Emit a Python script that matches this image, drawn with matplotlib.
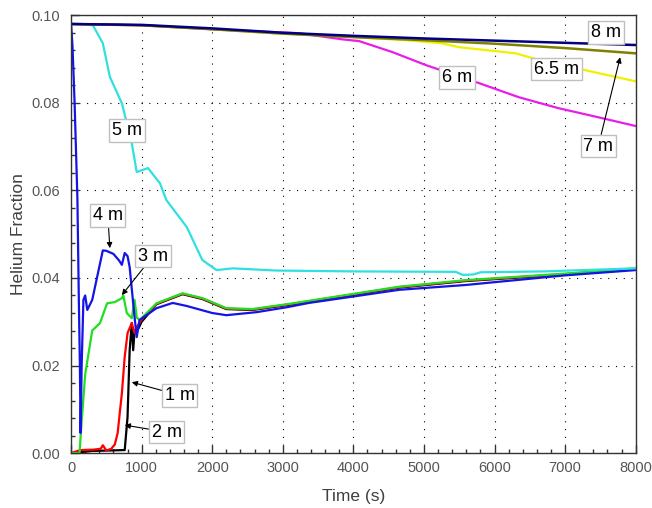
import matplotlib.pyplot as plt
from matplotlib.ticker import MultipleLocator

plt.rcParams['font.family'] = ['Liberation Sans', 'DejaVu Sans']

# 8 m
t8 = [0, 1000, 2000, 3000, 4000, 5000, 6000, 7000, 8000]
y8 = [0.0980, 0.0978, 0.0970, 0.0960, 0.0953, 0.0947, 0.0942, 0.0937, 0.0932]
# 7 m
t7 = [0, 1000, 2000, 3000, 4000, 5000, 6000, 7000, 8000]
y7 = [0.0980, 0.0977, 0.0968, 0.0958, 0.0950, 0.0943, 0.0935, 0.0925, 0.0913]
# 6.5 m
t65 = [0, 1000, 2000, 3000, 4000, 4750, 5250, 5500, 6300, 6800, 7300, 8000]
y65 = [0.0980, 0.0977, 0.0968, 0.0958, 0.0950, 0.0943, 0.0936, 0.0927, 0.0913, 0.0890, 0.0874, 0.0849]
# 6 m
t6 = [0, 1000, 2000, 2800, 3230, 3840, 4080, 4550, 5030, 5780, 6340, 6900, 7470, 8000]
y6 = [0.0980, 0.0977, 0.0968, 0.0962, 0.0959, 0.0945, 0.0941, 0.0916, 0.0886, 0.0845, 0.0813, 0.0788, 0.0767, 0.0747]
# 5 m
t5 = [0, 150, 310, 450, 550, 720, 860, 930, 1090, 1260, 1350, 1640, 1860, 2060, 2290,
      2900, 4000, 5450, 5550, 5700, 5800, 6700, 8000]
y5 = [0.0980, 0.0980, 0.0977, 0.0936, 0.0859, 0.0799, 0.0708, 0.0642, 0.0651, 0.0616, 0.0578,
      0.0516, 0.0441, 0.0418, 0.0422, 0.0417, 0.0415, 0.0414, 0.0407, 0.0408, 0.0413, 0.0415, 0.0422]
# 4 m
t4 = [0, 20, 50, 90, 110, 125, 135, 150, 175, 200, 230, 300, 450, 500, 600, 680, 720, 760, 800,
      830, 900, 930, 970, 1210, 1440, 1640, 2000, 2200, 2630, 3050, 3370, 4650, 5590, 7000, 8000]
y4 = [0.0980, 0.0930, 0.0800, 0.0580, 0.0350, 0.0200, 0.0046, 0.0200, 0.0350, 0.0360, 0.0327,
      0.0350, 0.0463, 0.0462, 0.0455, 0.0440, 0.0430, 0.0457, 0.0450, 0.0425, 0.0310, 0.0265,
      0.0304, 0.0331, 0.0343, 0.0336, 0.0320, 0.0315, 0.0322, 0.0333, 0.0343, 0.0373, 0.0384,
      0.0406, 0.0418]
# 3 m
t3 = [0, 120, 140, 200, 300, 410, 510, 620, 720, 740, 790, 860, 900, 930, 970, 1210, 1580,
      1860, 2200, 2570, 3140, 4650, 5590, 7000, 8000]
y3 = [0.0, 0.0, 0.0050, 0.0180, 0.0280, 0.0297, 0.0342, 0.0345, 0.0354, 0.0360, 0.0320, 0.0308,
      0.0350, 0.0310, 0.0304, 0.0342, 0.0365, 0.0354, 0.0331, 0.0329, 0.0342, 0.0380, 0.0395,
      0.0410, 0.0422]
# 2 m
t2 = [0, 130, 320, 420, 450, 500, 570, 620, 660, 720, 760, 800, 860, 900, 940, 1000, 1210, 1580,
      1860, 2200, 2570, 3140, 4650, 5590, 7000, 8000]
y2 = [0.0, 0.0007, 0.0008, 0.0010, 0.0018, 0.0006, 0.0010, 0.0020, 0.0046, 0.0137, 0.0220,
      0.0274, 0.0297, 0.0274, 0.0290, 0.0305, 0.0341, 0.0364, 0.0353, 0.0330, 0.0328, 0.0341,
      0.0379, 0.0394, 0.0409, 0.0421]
# 1 m
t1 = [0, 300, 760, 800, 830, 860, 880, 900, 940, 1000, 1210, 1580, 1860, 2200, 2570, 3140,
      4650, 5590, 7000, 8000]
y1 = [0.0, 0.0005, 0.0007, 0.0082, 0.0235, 0.0297, 0.0235, 0.0280, 0.0280, 0.0300, 0.0340,
      0.0363, 0.0352, 0.0329, 0.0327, 0.0340, 0.0378, 0.0393, 0.0408, 0.0420]

fig = plt.figure(figsize=(6.52, 5.08), dpi=100)
ax = fig.add_axes([0.109, 0.108, 0.866, 0.862])

ax.plot(t1, y1, color='black', lw=1.6)
ax.plot(t2, y2, color='#ff0000', lw=1.6)
ax.plot(t3, y3, color='#22dd22', lw=1.6)
ax.plot(t4, y4, color='#1414e6', lw=1.6)
ax.plot(t5, y5, color='#30e0e0', lw=1.6)
ax.plot(t65, y65, color='#f0f000', lw=1.6)
ax.plot(t6, y6, color='#e81ee8', lw=1.6)
ax.plot(t7, y7, color='#808000', lw=1.8)
ax.plot(t8, y8, color='#000080', lw=1.8)

ax.set_xlim(0, 8000)
ax.set_ylim(0, 0.10)
ax.xaxis.set_major_locator(MultipleLocator(1000))
ax.xaxis.set_minor_locator(MultipleLocator(200))
ax.yaxis.set_major_locator(MultipleLocator(0.02))
ax.yaxis.set_minor_locator(MultipleLocator(0.004))
ax.yaxis.set_major_formatter(plt.FormatStrFormatter('%.2f'))
ax.tick_params(which='both', direction='in', colors='#333333', labelcolor='#555555',
               labelsize=10.5, top=False, right=False)
ax.tick_params(which='major', length=6, width=1)
ax.tick_params(which='minor', length=3, width=1)
ax.tick_params(axis='y', which='major', pad=8)
ax.tick_params(axis='x', which='major', pad=6)
ax.grid(True, which='major', linestyle=(0, (1, 6)), color='black', lw=0.8)
for s in ax.spines.values():
    s.set_color('#333333')
    s.set_linewidth(1.0)

ax.set_xlabel('Time (s)', fontsize=12.5, color='#404040', labelpad=10)
ax.set_ylabel('Helium Fraction', fontsize=12.5, color='#404040', labelpad=4)

box = dict(boxstyle='square,pad=0.15', fc='white', ec='#c0c0c0', lw=1)
arrow = dict(arrowstyle='-|>', color='black', lw=0.8, mutation_scale=8, shrinkA=0, shrinkB=0)
fs = 13

ax.text(790, 0.0737, '5 m', fontsize=fs, ha='center', va='center', bbox=box, zorder=5)
ax.text(5470, 0.0858, '6 m', fontsize=fs, ha='center', va='center', bbox=box, zorder=5)
ax.text(6880, 0.0877, '6.5 m', fontsize=fs, ha='center', va='center', bbox=box, zorder=5)
ax.text(7580, 0.0961, '8 m', fontsize=fs, ha='center', va='center', bbox=box, zorder=5)
ax.annotate('7 m', xy=(7780, 0.0904), xytext=(7470, 0.0701), fontsize=fs, ha='center',
            va='center', bbox=box, arrowprops=arrow, zorder=5)
ax.annotate('4 m', xy=(550, 0.0468), xytext=(520, 0.0543), fontsize=fs, ha='center',
            va='center', bbox=box, arrowprops=arrow, zorder=5)
ax.annotate('3 m', xy=(720, 0.0361), xytext=(1160, 0.0450), fontsize=fs, ha='center',
            va='center', bbox=box, arrowprops=arrow, zorder=5)
ax.annotate('1 m', xy=(860, 0.0162), xytext=(1540, 0.0132), fontsize=fs, ha='center',
            va='center', bbox=box, arrowprops=arrow, zorder=5)
ax.annotate('2 m', xy=(760, 0.0064), xytext=(1355, 0.0048), fontsize=fs, ha='center',
            va='center', bbox=box, arrowprops=arrow, zorder=5)

plt.savefig('out.png', dpi=100)
